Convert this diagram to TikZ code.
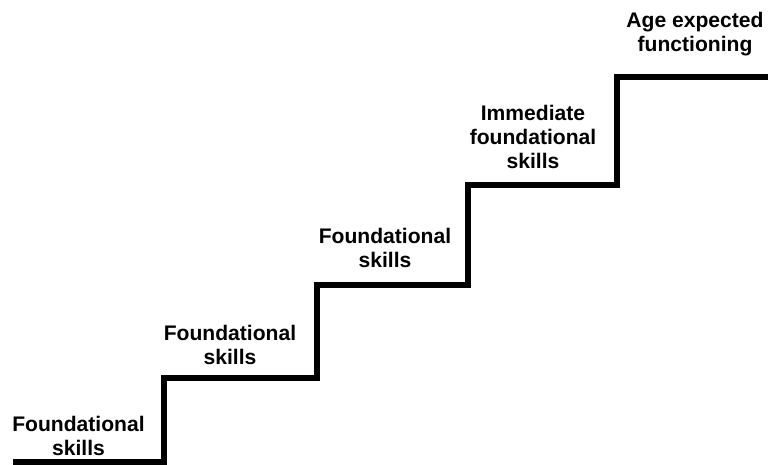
\documentclass[tikz,border=0pt]{standalone}
\usepackage{fontspec}
\setmainfont{Liberation Sans}
\begin{document}
\begin{tikzpicture}[x=0.02cm,y=0.02cm]
%============================================================
%  Estilos da escada e dos rotulos
%============================================================
\tikzset{
    % --- linha da escada ------
    degrau/.style={ %
            line width=0.12cm, % linha bem grossa
            draw=black,        % cor preta
            miter limit=10     % cantos vivos
        },
    % --- texto de cada degrau ------
    rotulo/.style={ %
            align=center,  % texto centralizado
            inner sep=0pt, % sem margem
            font=\fontsize{12}{13.6}\selectfont\bfseries
        },
}
   % area total do desenho
   \useasboundingbox (0,0) rectangle (768,465);

   % cantos da escada (de baixo para cima)
   \coordinate (c0) at (13,3);
   \coordinate (c1) at (164,3);
   \coordinate (c2) at (164,87);
   \coordinate (c3) at (317,87);
   \coordinate (c4) at (317,180);
   \coordinate (c5) at (468,180);
   \coordinate (c6) at (468,280);
   \coordinate (c7) at (617,280);
   \coordinate (c8) at (617,388);
   \coordinate (c9) at (770,388);

   % desenha a escada
   \draw[degrau] (c0) -- (c1) -- (c2) -- (c3) -- (c4) -- (c5)
                 -- (c6) -- (c7) -- (c8) -- (c9);

   % rotulos dos degraus
   \node[rotulo] (d1) at (78.5,29) {Foundational\\skills};
   \node[rotulo] (d2) at (230,120) {Foundational\\skills};
   \node[rotulo] (d3) at (385,217) {Foundational\\skills};
   \node[rotulo] (d4) at (533,328) {Immediate\\foundational\\skills};
   \node[rotulo] (d5) at (695,431) {Age expected\\functioning};
\end{tikzpicture}
\end{document}
